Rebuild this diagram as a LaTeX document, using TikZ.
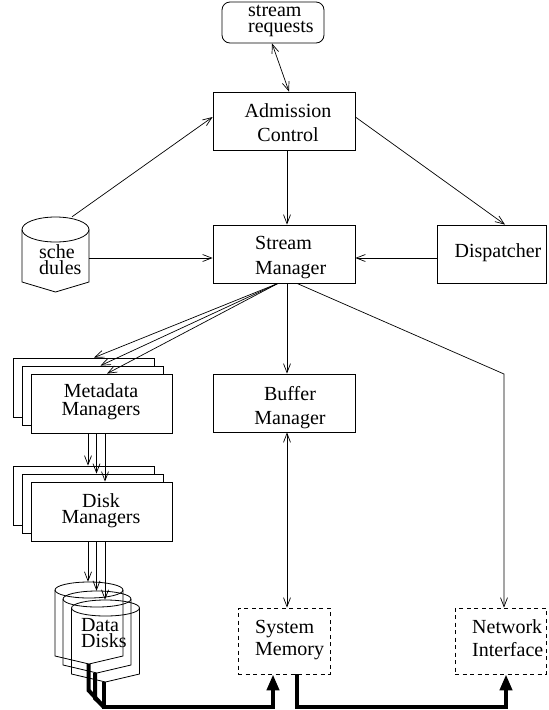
\documentclass[tikz,border=0pt]{standalone}
\usepackage{fontspec}
\setmainfont{Liberation Serif}
\usetikzlibrary{arrows.meta,calc}
\begin{document}
\begin{tikzpicture}[x=1pt,y=-1pt,
  box/.style={draw, line width=0.8pt, fill=white, inner sep=0pt},
  dbox/.style={draw, line width=0.8pt, inner sep=0pt, dash pattern=on 4pt off 3.5pt},
  hold/.style={inner sep=0pt},
  lbl/.style={inner sep=0pt, font=\fontsize{20}{24}\selectfont},
  cyl/.style={line width=0.8pt},
  arr/.style={line width=0.7pt, -{Straight Barb[length=9pt,width=7pt]}},
  darr/.style={line width=0.7pt, {Straight Barb[length=9pt,width=7pt]}-{Straight Barb[length=9pt,width=7pt]}},
  bus/.style={line width=4pt},
  busarr/.style={line width=4pt, -{Triangle[length=16pt,width=12pt]}}]
\useasboundingbox (0,0) rectangle (549,710);

% ---- boxes ----
\node[box, rounded corners=8pt, minimum width=102pt, minimum height=41pt] (req) at (273,22.5) {};
\node[box, minimum width=142pt, minimum height=58pt] (adm) at (284,121) {};
\node[box, minimum width=142pt, minimum height=58pt] (sm) at (284,254) {};
\node[box, minimum width=109pt, minimum height=58pt] (disp) at (491.5,254) {};
\node[box, minimum width=142pt, minimum height=58pt] (buf) at (284,403) {};
\node[dbox, minimum width=92pt, minimum height=66pt] (mem) at (284,641) {};
\node[dbox, minimum width=91pt, minimum height=66pt] (ni) at (500.5,641) {};

% metadata managers stack
\node[box, minimum width=141pt, minimum height=59pt] (metaB) at (84,387.5) {};
\node[box, minimum width=141pt, minimum height=59pt] (metaM) at (92.5,395.5) {};
\node[box, minimum width=141pt, minimum height=59pt] (metaF) at (101.5,403.5) {};
% disk managers stack
\node[box, minimum width=141pt, minimum height=59pt] (diskB) at (84,495.5) {};
\node[box, minimum width=141pt, minimum height=59pt] (diskM) at (92.5,503.5) {};
\node[box, minimum width=141pt, minimum height=59pt] (diskF) at (101.5,511.5) {};

% schedules cylinder
\draw[cyl, fill=white] (22,229.5) -- (22,282) -- (55.5,292) -- (89,282) -- (89,229.5);
\draw[cyl] (55.5,229.5) ellipse [x radius=33.5pt, y radius=12.5pt];
\node[hold, minimum width=67pt, minimum height=75pt] (sched) at (55.5,254.5) {};

% data disks cylinders
\draw[cyl] (55,590) -- (55,656) -- (89,664) -- (123,656) -- (123,590);
\draw[cyl] (89,590) ellipse [x radius=34pt, y radius=8pt];
\draw[cyl] (63,599) -- (63,665) -- (97,673) -- (131,665) -- (131,599);
\draw[cyl] (97,599) ellipse [x radius=34pt, y radius=8pt];
\draw[cyl] (71.5,608) -- (71.5,674) -- (105.5,682) -- (139.5,674) -- (139.5,608);
\draw[cyl] (105.5,608) ellipse [x radius=34pt, y radius=8pt];
\node[hold, minimum width=68pt, minimum height=82pt] (ddB) at (89,623) {};
\node[hold, minimum width=68pt, minimum height=82pt] (ddM) at (97,632) {};
\node[hold, minimum width=68pt, minimum height=82pt] (ddF) at (105.5,641) {};

% ---- labels ----
\node[lbl, font=\fontsize{20}{16}\selectfont, align=left, anchor=west] (reqT) at (248,21.4) {stream\\requests};
\node[lbl, align=center] (admT) at (288,123) {Admission\\Control};
\node[lbl, font=\fontsize{20}{25}\selectfont, align=left, anchor=west] (smT) at (255,258) {Stream\\Manager};
\node[lbl] (dispT) at (498,252.6) {Dispatcher};
\node[lbl, align=center] (bufT) at (290,407.4) {Buffer\\Manager};
\node[lbl, font=\fontsize{20}{18}\selectfont, align=center] (metaT) at (101,401.3) {Metadata\\Managers};
\node[lbl, font=\fontsize{20}{16}\selectfont, align=center] (diskT) at (101,510.4) {Disk\\Managers};
\node[lbl, font=\fontsize{20}{16}\selectfont, align=left, anchor=west] (ddT) at (81,633.4) {Data\\Disks};
\node[lbl, font=\fontsize{20}{22}\selectfont, align=left, anchor=west] (memT) at (255,639.6) {System\\Memory};
\node[lbl, font=\fontsize{20}{23}\selectfont, align=left, anchor=west] (niT) at (472,637.7) {Network\\Interface};
\node[lbl, font=\fontsize{20}{16}\selectfont, align=left, anchor=west] (schedT) at (39,259.2) {sche\\dules};

% ---- connectors ----
\draw[darr] ([xshift=-1pt]req.south) -- ([xshift=5pt]adm.north);
\draw[arr] ([xshift=16.5pt]sched.north) -- ([yshift=4pt]adm.west);
\draw[arr] ([xshift=3pt]adm.south) -- ([xshift=3pt]sm.north);
\draw[arr] ([yshift=4pt]adm.east) -- ([xshift=13.5pt]disp.north);
\coordinate (smW) at ([yshift=-4pt]sm.west);
\draw[arr] (sched.east |- smW) -- (smW);
\draw[arr] ([yshift=-4pt]disp.west) -- ([yshift=-4pt]sm.east);
\coordinate (smS) at ([xshift=-6pt]sm.south);
\draw[arr] (smS) -- ([xshift=10pt]metaB.north);
\draw[arr] (smS) -- ([xshift=8pt]metaM.north);
\draw[arr] (smS) -- ([xshift=5.5pt]metaF.north);
\draw[arr] ([xshift=3pt]sm.south) -- ([xshift=3pt]buf.north);
\coordinate (bend) at (504,374);
\draw[arr] ([xshift=13pt]sm.south) -- (bend) -- (bend |- ni.north);
\draw[darr] ([xshift=3pt]buf.south) -- ([xshift=3pt]mem.north);

\draw[arr] ([xshift=4pt]diskB.north |- metaF.south) -- ([xshift=4pt]diskB.north);
\draw[arr] ([xshift=4pt]diskM.north |- metaF.south) -- ([xshift=4pt]diskM.north);
\draw[arr] ([xshift=3.5pt]diskF.north |- metaF.south) -- ([xshift=3.5pt]diskF.north);

\draw[arr] ([xshift=-1pt]ddB.north |- diskF.south) -- ([xshift=-1pt]ddB.north);
\draw[arr] ([xshift=-0.5pt]ddM.north |- diskF.south) -- ([xshift=-0.5pt]ddM.north);
\draw[arr] ([xshift=-0.5pt]ddF.north |- diskF.south) -- ([xshift=-0.5pt]ddF.north);

% ---- data bus ----
\coordinate (busJ) at (104,707);
\coordinate (memL) at ([xshift=-11pt]mem.south);
\coordinate (memR) at ([xshift=13pt]mem.south);
\coordinate (niB) at ([xshift=5.5pt]ni.south);
\draw[bus] ([xshift=-0.5pt]ddB.south) -- ++(0,26) -- (busJ);
\draw[bus] ([xshift=-2pt]ddM.south) -- ++(0,25) -- (busJ);
\draw[busarr] ([xshift=-1.5pt]ddF.south) -- (busJ) -- (busJ -| memL) -- (memL);
\draw[busarr] (memR) -- (memR |- busJ) -- (niB |- busJ) -- (niB);
\end{tikzpicture}
\end{document}
